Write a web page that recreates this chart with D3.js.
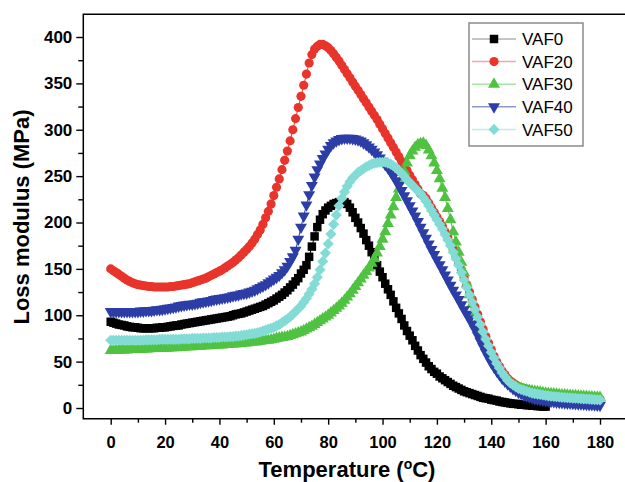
<!DOCTYPE html>
<html>
<head>
<meta charset="utf-8">
<script src="https://cdn.jsdelivr.net/npm/d3@7"></script>
<style>
  body { margin: 0; background: #fff; }
  svg { display: block; font-family: "Liberation Sans", Arial, sans-serif; }
</style>
</head>
<body>
<div id="chart"></div>
<script>
// series names and colours
const seriesNames = ["VAF0", "VAF20", "VAF30", "VAF40", "VAF50"];

// loss modulus (MPa), one value per degree starting at 0 °C
const vaf0 = [
  93, 92, 91, 90, 89.5, 89, 88, 87.5, 87, 87,
  86.5, 86, 86, 86, 86, 86, 86, 86.5, 86.5, 87,
  87, 87.5, 88, 88.5, 89, 89, 90, 90.5, 91, 91.5,
  92, 92.5, 93, 93.5, 94, 94.5, 95, 95.5, 96, 96.5,
  97, 97.5, 98, 98.5, 99, 100, 101, 101.5, 102, 103,
  104, 105, 106, 107, 108, 109, 110, 111.5, 113, 114.5,
  116, 118, 120, 122, 124.5, 127, 130, 133, 136.5, 140,
  145, 149, 154, 163, 174, 185, 195, 203, 209, 213,
  216, 218, 220, 221, 222, 222, 222, 220, 216, 211,
  205, 200, 194, 188, 181, 175, 168, 161, 154, 147,
  141, 134, 128, 122, 115, 108, 102, 96, 89, 83,
  78, 73, 67, 62, 57, 53, 49, 45, 42, 39,
  37, 34, 32, 30, 28, 26, 24, 22.5, 21, 19.5,
  18, 17, 16, 15, 14, 13, 12, 11, 10.5, 10,
  9, 8.5, 8, 7, 6.5, 6, 5.5, 5, 4.5, 4.5,
  4, 3.5, 3.5, 3, 3, 2.5, 2.5, 2, 2, 1.5, 1.5
];
const vaf20 = [
  150, 148, 146, 144, 142, 140, 138, 136.5, 135, 134,
  133, 132.5, 132, 131.5, 131, 131, 130.5, 130.5, 130.5, 130.5,
  130.5, 130.5, 131, 131, 131.5, 132, 132.5, 133, 133.5, 134,
  135, 136, 137, 138, 139, 140, 141.5, 143, 144.5, 146,
  147.5, 149, 151, 153, 155, 157, 159.5, 162, 165, 168,
  171, 174, 178, 182, 187, 192, 198, 205, 212, 220,
  229, 238, 247, 257, 267, 277, 288, 300, 312, 324,
  336, 348, 360, 372, 381, 387, 390, 392, 392, 390.5,
  388.5, 385.5, 382, 378, 374, 369.5, 365, 360.5, 356, 351.5,
  347, 342.5, 338, 333.5, 329, 324.5, 320, 315.5, 311, 306,
  301, 296, 291, 286, 281, 276, 271, 266, 261, 256,
  251, 246, 241, 236, 231, 229, 226, 221, 216, 211,
  206, 201, 196, 190, 184, 178, 171, 164, 157, 149,
  141, 133, 125, 117, 109, 101, 93, 85, 77, 70,
  63, 56, 50, 45, 40, 36, 32, 29, 27, 25,
  23, 22, 21, 20, 19, 18, 17, 16.5, 16, 15.5,
  15, 14.5, 14, 13.5, 13, 12.7, 12.4, 12.1, 11.8, 11.5,
  11.2, 11, 10.8, 10.6, 10.4, 10.2, 10, 9.8, 9.6, 9.4, 9.2
];
const vaf30 = [
  62, 62, 62, 62.5, 62.5, 62.5, 62.5, 63, 63, 63,
  63, 63, 63.5, 63.5, 63.5, 64, 64, 64, 64, 64.5,
  64.5, 64.5, 65, 65, 65, 65.5, 65.5, 65.5, 66, 66,
  66, 66.5, 66.5, 66.5, 67, 67, 67, 67.5, 67.5, 68,
  68, 68, 68.5, 68.5, 69, 69, 69, 69.5, 69.5, 70,
  70, 70.5, 71, 71, 71.5, 72, 72.5, 73, 73, 73.5,
  74, 75, 75.5, 76, 76.5, 77, 78, 79, 80, 81,
  82, 83.5, 85, 86.5, 88, 90, 92, 94, 96, 98,
  100, 102.5, 105, 107.5, 110, 113, 116, 119.5, 123, 127,
  131, 135, 139, 143, 147, 151, 156, 161, 167, 174,
  182, 190, 199, 208, 217, 227, 236, 246, 255, 264,
  272, 277, 281, 284, 285, 285.5, 283, 278, 272, 264,
  256, 247, 237, 227, 215, 203, 190, 179, 168, 157,
  146, 134, 122, 112, 102, 93, 85, 77, 70, 63,
  57, 51, 46, 41, 37, 33, 30, 27.5, 25, 23.5,
  22, 21, 20, 19.5, 19, 18.5, 18, 17.5, 17, 16.5,
  16, 15.7, 15.4, 15.1, 14.8, 14.5, 14.2, 14, 13.8, 13.6,
  13.4, 13.2, 13, 12.8, 12.6, 12.4, 12.2, 12, 11.8, 11.6, 11.4
];
const vaf40 = [
  104, 104, 104, 104, 104, 104, 104, 104, 104, 104,
  104, 104.5, 104.5, 105, 105, 105, 105.5, 106, 106, 106.5,
  107, 107.5, 108, 108.5, 109, 110, 110.5, 111, 111.5, 112,
  112, 112.5, 113, 114, 114.5, 115, 115.5, 116, 117, 117.5,
  118, 118.5, 119, 119.5, 120, 121, 121.5, 122, 123, 123.5,
  124, 125, 126, 127, 128.5, 130, 131.5, 133, 135, 137,
  139, 141, 143, 146, 149, 153, 158, 163, 170, 182,
  195, 207, 219, 230, 240, 249, 257, 263, 269, 274,
  279, 283, 286, 288, 289.5, 290.5, 291, 291, 291, 290.5,
  290, 289, 288, 286, 284, 281.5, 279, 276, 273, 269.5,
  266, 262.5, 259, 254.5, 250, 245, 240, 234.5, 229, 223.5,
  218, 212.5, 207, 201, 195, 189, 183, 177, 171, 165.5,
  160, 154.5, 149, 143.5, 138, 132.5, 127, 122, 117, 111.5,
  106, 101, 96, 90.5, 85, 78.5, 72, 66, 60, 54.5,
  49, 44.5, 40, 36, 32, 29, 26, 23.5, 21, 19,
  17, 15.5, 14, 13, 12, 11, 10, 9.5, 9, 8.5,
  8, 7.6, 7.2, 6.8, 6.5, 6.2, 5.9, 5.6, 5.4, 5.2,
  5, 4.8, 4.6, 4.4, 4.2, 4, 3.8, 3.6, 3.4, 3.2, 3
];
const vaf50 = [
  73, 73, 73, 73, 73, 73, 73, 73, 73, 73,
  73, 73, 73, 73.5, 73.5, 73.5, 73.5, 73.5, 74, 74,
  74, 74, 74, 74, 74, 74, 74.5, 74.5, 74.5, 74.5,
  75, 75, 75, 75, 75.5, 75.5, 75.5, 75.5, 76, 76,
  76, 76.5, 76.5, 76.5, 77, 77, 77.5, 77.5, 78, 78.5,
  79, 79.5, 80, 80.5, 81, 82, 83, 84, 85, 86,
  87, 88.5, 90, 92, 94, 96, 98.5, 101, 104, 107,
  110, 114, 118, 123, 128, 134, 141, 149, 158, 167,
  177, 187.5, 198, 208, 218, 226, 233, 239, 244, 248,
  251, 254, 256, 258, 260, 261.5, 263, 264, 264.5, 265,
  265, 265, 264, 263, 261, 259, 256, 253, 250, 246,
  243, 240, 237, 234, 231, 227, 223, 218, 213, 208,
  203, 198, 193, 187, 181, 175, 168, 161, 154, 146,
  138, 130, 122, 114, 106, 98, 90, 82, 74, 67,
  60, 54, 48, 43, 38, 34, 30, 27, 25, 23,
  21, 20, 19, 18, 17, 16, 15.5, 15, 14.5, 14,
  13.5, 13, 12.7, 12.4, 12.1, 11.8, 11.5, 11.3, 11.1, 10.9,
  10.7, 10.5, 10.3, 10.1, 9.9, 9.7, 9.5, 9.3, 9.1, 8.9, 8.7
];

// axis ticks
const xTicks = [0, 20, 40, 60, 80, 100, 120, 140, 160, 180];
const xMinorTicks = [10, 30, 50, 70, 90, 110, 130, 150, 170];
const yTicks = [0, 50, 100, 150, 200, 250, 300, 350, 400];
const yMinorTicks = [25, 75, 125, 175, 225, 275, 325, 375];

const seriesValues = [vaf0, vaf20, vaf30, vaf40, vaf50];
const seriesColor = ["#000000", "#e8342b", "#4fc341", "#2c3ea6", "#82dcd5"];
const legendLineColor = ["#b0b0b0", "#f2a8a6", "#a8e4a2", "#8d97cc", "#bdeeea"];

const width = 625, height = 482;
const frame = { left: 83.3, top: 14.3, bottom: 418.7, right: 625 };

const svg = d3.select("#chart").append("svg")
  .attr("width", width)
  .attr("height", height);

// scales
const x = d3.scaleLinear().domain([0, 180]).range([110.7, 600]);
const y = d3.scaleLinear().domain([0, 400]).range([408, 37]);

// marker shapes for each series
const squareSym = d3.symbol().type(d3.symbolSquare).size(72);
const circleSym = d3.symbol().type(d3.symbolCircle).size(66);
const triSym = d3.symbol().type(d3.symbolTriangle).size(62);
const diamondSym = d3.symbol().type(d3.symbolSquare).size(62);
const markers = [
  { path: squareSym(), rot: 0 },
  { path: circleSym(), rot: 0 },
  { path: triSym(), rot: 0 },
  { path: triSym(), rot: 180 },
  { path: diamondSym(), rot: 45 }
];

// ---- axes ----
const xAxis = svg.append("g")
  .attr("transform", `translate(0,${frame.bottom})`)
  .call(d3.axisBottom(x).tickValues(xTicks).tickSize(6).tickPadding(12).tickFormat(d3.format("d")));
svg.append("g")
  .attr("transform", `translate(0,${frame.bottom})`)
  .call(d3.axisBottom(x).tickValues(xMinorTicks).tickSize(4).tickFormat(""));

const yAxis = svg.append("g")
  .attr("transform", `translate(${frame.left},0)`)
  .call(d3.axisLeft(y).tickValues(yTicks).tickSize(7).tickPadding(4).tickFormat(d3.format("d")));
svg.append("g")
  .attr("transform", `translate(${frame.left},0)`)
  .call(d3.axisLeft(y).tickValues(yMinorTicks).tickSize(5).tickFormat(""));

svg.selectAll(".domain").remove();
svg.selectAll(".tick line").attr("stroke", "#000").attr("stroke-width", 1.4);
xAxis.selectAll("text").attr("font-size", 16.5).attr("font-weight", "bold").attr("fill", "#000");
yAxis.selectAll("text").attr("font-size", 17).attr("font-weight", "bold").attr("fill", "#000");

// frame: left, top and bottom (right side is cut off)
svg.append("path")
  .attr("d", `M${frame.right},${frame.top}H${frame.left}V${frame.bottom}H${frame.right}`)
  .attr("fill", "none")
  .attr("stroke", "#000")
  .attr("stroke-width", 1.5);

// ---- series ----
seriesValues.forEach((vals, i) => {
  const pts = vals.map((v, k) => [k, v]);
  const g = svg.append("g");

  g.append("path")
    .datum(pts)
    .attr("fill", "none")
    .attr("stroke", seriesColor[i])
    .attr("stroke-width", 1)
    .attr("d", d3.line().x(d => x(d[0])).y(d => y(d[1])));

  g.selectAll("path.mk")
    .data(pts)
    .join("path")
    .attr("class", "mk")
    .attr("d", markers[i].path)
    .attr("transform", d => `translate(${x(d[0])},${y(d[1])}) rotate(${markers[i].rot})`)
    .attr("fill", seriesColor[i]);
});

// ---- legend ----
const legend = svg.append("g");
legend.append("rect")
  .attr("x", 469).attr("y", 23)
  .attr("width", 114).attr("height", 123)
  .attr("fill", "#fff")
  .attr("stroke", "#8a8a8a")
  .attr("stroke-width", 1.5);

seriesNames.forEach((name, i) => {
  const ly = 39 + i * 22.6;
  legend.append("line")
    .attr("x1", 472).attr("x2", 516)
    .attr("y1", ly).attr("y2", ly)
    .attr("stroke", legendLineColor[i])
    .attr("stroke-width", 1.5);
  legend.append("path")
    .attr("d", markers[i].path)
    .attr("transform", `translate(494,${ly}) rotate(${markers[i].rot})`)
    .attr("fill", seriesColor[i]);
  legend.append("text")
    .attr("x", 522).attr("y", ly)
    .attr("dy", "0.36em")
    .attr("font-size", 17)
    .attr("fill", "#000")
    .text(name);
});

// ---- axis titles ----
svg.append("text")
  .attr("transform", "translate(29,217) rotate(-90)")
  .attr("text-anchor", "middle")
  .attr("font-size", 22)
  .attr("font-weight", "bold")
  .text("Loss modulus (MPa)");

const xTitle = svg.append("text")
  .attr("x", 347).attr("y", 477)
  .attr("text-anchor", "middle")
  .attr("font-size", 22)
  .attr("font-weight", "bold");
xTitle.append("tspan").text("Temperature (");
xTitle.append("tspan").attr("font-size", 14).attr("dy", -8).text("o");
xTitle.append("tspan").attr("dy", 8).text("C)");
</script>
</body>
</html>
